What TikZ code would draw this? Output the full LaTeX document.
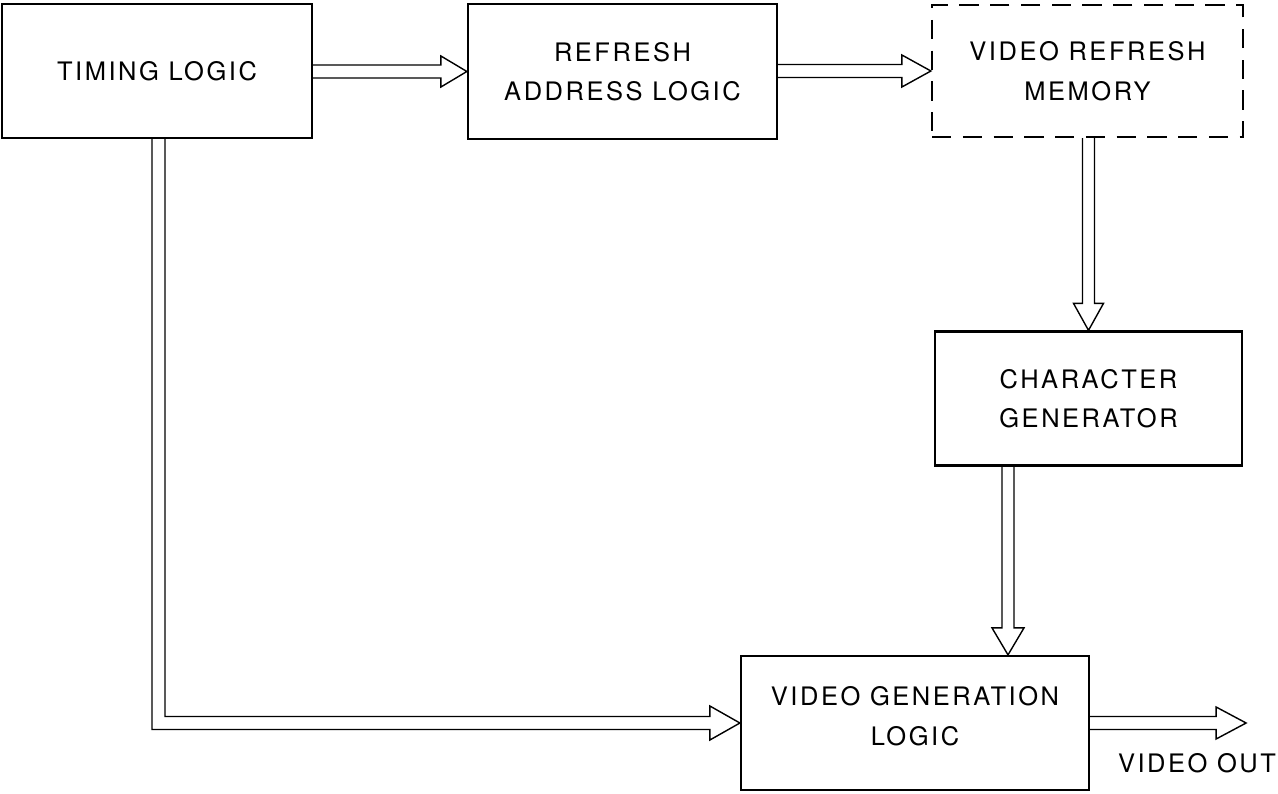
\documentclass[tikz,border=0pt]{standalone}
\usepackage{fontspec}
\usetikzlibrary{calc}
\newfontfamily\heros{TeX Gyre Heros}[LetterSpace=10]
\newcommand\RArrowDraw[4]{% start, tip, head length, head half-width
  \draw[conn] ($(#1)+(0,-6.5)$) -- ($(#2)+(-#3,-6.5)$) -- ($(#2)+(-#3,-#4)$) -- (#2)
    -- ($(#2)+(-#3,#4)$) -- ($(#2)+(-#3,6.5)$) -- ($(#1)+(0,6.5)$);}
\newcommand\DArrowDraw[4]{% start, tip, head length, head half-width
  \draw[conn] ($(#1)+(-6,0)$) -- ($(#2)+(-6,-#3)$) -- ($(#2)+(-#4,-#3)$) -- (#2)
    -- ($(#2)+(#4,-#3)$) -- ($(#2)+(6,-#3)$) -- ($(#1)+(6,0)$);}
\begin{document}
\begin{tikzpicture}[x=0.02cm,y=-0.02cm,
  box/.style={draw, line width=1.3pt, inner sep=0pt, align=center,
    font=\heros\fontsize{14.5}{22.5}\selectfont},
  dbox/.style={box, dash pattern=on 11pt off 6.5pt},
  lbl/.style={inner sep=0pt, font=\heros\fontsize{14.5}{22.5}\selectfont},
  conn/.style={line width=0.8pt, line join=miter}]
\useasboundingbox (0,0) rectangle (1278,794);
\fill[white] (0,0) rectangle (1278,794);

\node[box, minimum width=6.2cm, minimum height=2.68cm] (tl) at (157,71) {TIMING LOGIC};
\node[box, minimum width=6.18cm, minimum height=2.7cm] (ral) at (622.5,71.5) {REFRESH\\ADDRESS LOGIC};
\node[dbox, minimum width=6.22cm, minimum height=2.64cm] (vrm) at (1087.5,71) {VIDEO REFRESH\\MEMORY};
\node[box, minimum width=6.14cm, minimum height=2.68cm] (cg) at (1088.5,398.5) {CHARACTER\\GENERATOR};
\node[box, minimum width=6.96cm, minimum height=2.68cm,
  label={[lbl, align=center, yshift=7*0.02cm]center:VIDEO GENERATION\\LOGIC}] (vgl) at (915,723) {};
\node[lbl] (vo) at (1197,763) {VIDEO OUT};

% timing -> refresh address
\coordinate (s1) at (tl.east |- ral.west);
\RArrowDraw{s1}{ral.west}{26}{15.5}
% refresh address -> video refresh memory
\coordinate (s2) at (ral.east |- vrm.west);
\RArrowDraw{s2}{vrm.west}{29}{16}
% memory -> character generator
\coordinate (s4) at (cg.north |- vrm.south);
\DArrowDraw{s4}{cg.north}{27}{15}
% character generator -> video generation
\coordinate (s5) at ($(cg.south)+(-80.5,0)$);
\coordinate (t5) at (s5 |- vgl.north);
\DArrowDraw{s5}{t5}{27}{16}
% timing -> video generation (L-shaped)
\coordinate (s3) at ($(tl.south)+(1.5,0)$);
\coordinate (t3) at (vgl.west);
\draw[conn] ($(s3)+(6.5,0)$) |- ($(t3)+(-30,-6.5)$) -- ($(t3)+(-30,-17)$) -- (t3)
  -- ($(t3)+(-30,17)$) -- ($(t3)+(-30,6.5)$) -| ($(s3)+(-6.5,0)$);
% video out
\coordinate (vout) at ($(vgl.east)+(156,0)$);
\RArrowDraw{vgl.east}{vout}{30}{16}
\end{tikzpicture}
\end{document}
